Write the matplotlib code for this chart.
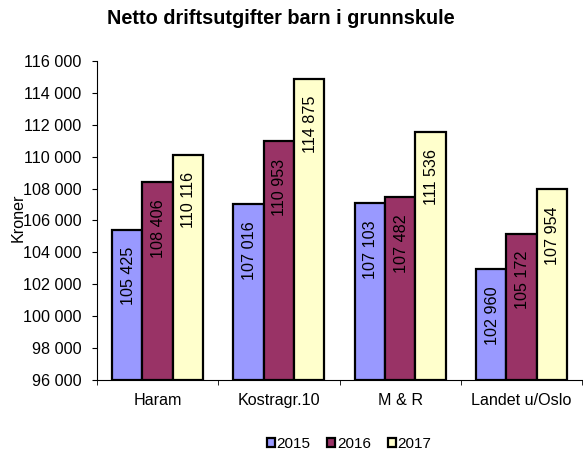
import matplotlib.pyplot as plt
import numpy as np

plt.rcParams['font.family'] = ['Liberation Sans', 'DejaVu Sans']

categories = ['Haram', 'Kostragr.10', 'M & R', 'Landet u/Oslo']
years = ['2015', '2016', '2017']
values_2015 = [105425, 107016, 107103, 102960]
values_2016 = [108406, 110953, 107482, 105172]
values_2017 = [110116, 114875, 111536, 107954]
colors = ['#9999FF', '#993366', '#FFFFCC']

yticks = np.arange(96000, 116001, 2000)


def fmt(v):
    # thousands separated by a space, like the original
    return f"{v:,}".replace(",", " ")


def main():
    fig = plt.figure(figsize=(5.83, 4.55), dpi=100)
    ax = fig.add_axes([97 / 583, 75 / 455, 485 / 583, 319 / 455])

    x = np.arange(len(categories))
    width = 0.25
    series = [values_2015, values_2016, values_2017]
    for i, vals in enumerate(series):
        pos = x + (i - 1) * width
        bars = ax.bar(pos, np.array(vals) - 96000, width, bottom=96000,
                      color=colors[i], edgecolor='black', linewidth=1.6,
                      label=years[i], zorder=2)
        for b, v in zip(bars, vals):
            ax.annotate(fmt(v), (b.get_x() + b.get_width() / 2, v),
                        xytext=(1, -17), textcoords='offset pixels',
                        rotation=90, ha='center', va='top', fontsize=11.6)

    ax.set_xlim(-0.5, len(categories) - 0.5)
    ax.set_ylim(96000, 116000)
    ax.set_yticks(yticks)
    ax.set_yticklabels([fmt(t) for t in yticks], fontsize=11.6)
    ax.set_xticks(x)
    ax.set_xticklabels(categories, fontsize=11.6)
    ax.tick_params(axis='x', length=0, pad=9.5)
    ax.set_xticks(np.arange(-0.5, len(categories)), minor=True)
    ax.tick_params(axis='x', which='minor', length=3.5, direction='out')
    ax.tick_params(axis='y', length=3.6, direction='out', pad=7.4)

    for s in ['top', 'right']:
        ax.spines[s].set_visible(False)

    ax.set_ylabel('Kroner', fontsize=11.6)
    ax.yaxis.set_label_coords(-0.148, 0.51)

    fig.suptitle('Netto driftsutgifter barn i grunnskule', x=281 / 583,
                 y=1 - 19 / 455, va='center', fontsize=14.3, fontweight='bold')

    fig.legend(loc='center', bbox_to_anchor=(349 / 583, 1 - 444 / 455), ncol=3,
               frameon=False, handlelength=0.52, handleheight=0.52,
               handletextpad=0.12, columnspacing=1.1, fontsize=11)

    fig.savefig('out.png', dpi=100)


if __name__ == "__main__":
    main()
